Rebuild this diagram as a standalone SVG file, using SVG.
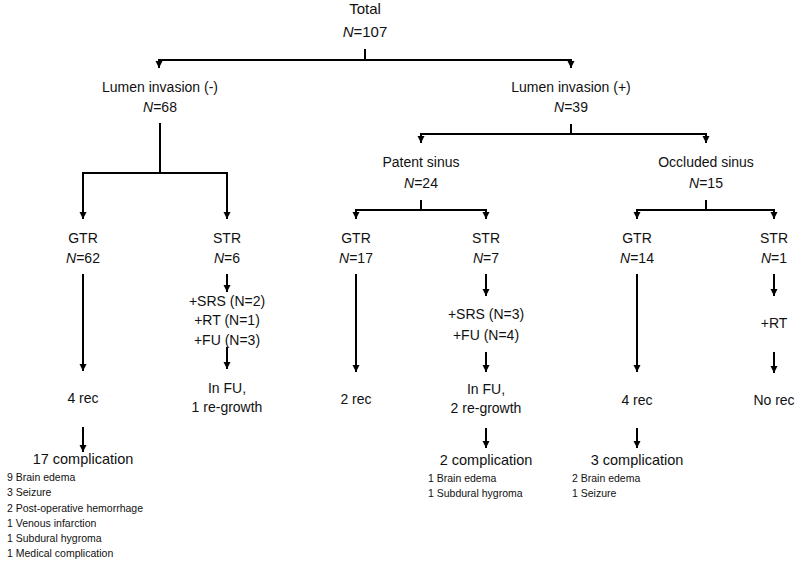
<svg xmlns="http://www.w3.org/2000/svg" width="800" height="566" viewBox="0 0 800 566">
<defs>
<marker id="ah" markerUnits="userSpaceOnUse" markerWidth="8" markerHeight="8" refX="7" refY="3.5" orient="auto">
<path d="M0,0 L7,3.5 L0,7 z" fill="#000"/>
</marker>
<style>
text{font-family:"Liberation Sans",Arial,sans-serif;fill:#111;text-anchor:middle}
.t{font-size:15px}
.m{font-size:14px}
.c{font-size:14.5px}
.s{font-size:10.5px;text-anchor:start}
.i{font-style:italic}
.ln{stroke:#000;stroke-width:2;fill:none}
.ar{stroke:#000;stroke-width:2;fill:none;marker-end:url(#ah)}
</style>
</defs>
<rect width="800" height="566" fill="#fff"/>
<g id="connectors">
<path class="ln" d="M365,49 V60 M159,60 H571"/>
<path class="ar" d="M159,59 V68"/>
<path class="ar" d="M571,59 V68"/>
<path class="ln" d="M160,123 V173 M83,173 H227"/>
<path class="ar" d="M83,172 V219"/>
<path class="ar" d="M227,172 V219"/>
<path class="ln" d="M571,124 V134 M421,134 H706"/>
<path class="ar" d="M421,133 V143"/>
<path class="ar" d="M706,133 V143"/>
<path class="ln" d="M421,200 V210 M356,210 H486"/>
<path class="ar" d="M356,209 V219"/>
<path class="ar" d="M486,209 V219"/>
<path class="ln" d="M706,200 V210 M637,210 H774"/>
<path class="ar" d="M637,209 V219"/>
<path class="ar" d="M774,209 V219"/>
<path class="ar" d="M83,274 V371"/>
<path class="ar" d="M83,427 V452"/>
<path class="ar" d="M227,274 V292"/>
<path class="ar" d="M227,347 V369"/>
<path class="ar" d="M356,274 V372"/>
<path class="ar" d="M486,274 V296"/>
<path class="ar" d="M486,352 V372"/>
<path class="ar" d="M486,428 V448"/>
<path class="ar" d="M637,274 V372"/>
<path class="ar" d="M637,428 V448"/>
<path class="ar" d="M774,274 V296"/>
<path class="ar" d="M774,352 V373"/>
</g>
<g id="total"><text class="t" x="365" y="14">Total</text><text class="t" x="365" y="37"><tspan class="i">N</tspan>=107</text></g>
<g id="lumen-neg"><text class="m" x="160" y="92">Lumen invasion (-)</text><text class="m" x="160" y="112"><tspan class="i">N</tspan>=68</text></g>
<g id="lumen-pos"><text class="m" x="571" y="92">Lumen invasion (+)</text><text class="m" x="571" y="112"><tspan class="i">N</tspan>=39</text></g>
<g id="patent"><text class="m" x="421" y="167">Patent sinus</text><text class="m" x="421" y="188"><tspan class="i">N</tspan>=24</text></g>
<g id="occluded"><text class="m" x="706" y="167">Occluded sinus</text><text class="m" x="706" y="188"><tspan class="i">N</tspan>=15</text></g>
<g id="gtr62"><text class="m" x="83" y="243">GTR</text><text class="m" x="83" y="263"><tspan class="i">N</tspan>=62</text></g>
<g id="str6"><text class="m" x="227" y="243">STR</text><text class="m" x="227" y="263"><tspan class="i">N</tspan>=6</text></g>
<g id="gtr17"><text class="m" x="356" y="243">GTR</text><text class="m" x="356" y="263"><tspan class="i">N</tspan>=17</text></g>
<g id="str7"><text class="m" x="486" y="243">STR</text><text class="m" x="486" y="263"><tspan class="i">N</tspan>=7</text></g>
<g id="gtr14"><text class="m" x="637" y="243">GTR</text><text class="m" x="637" y="263"><tspan class="i">N</tspan>=14</text></g>
<g id="str1"><text class="m" x="774" y="243">STR</text><text class="m" x="774" y="263"><tspan class="i">N</tspan>=1</text></g>
<g id="tx6"><text class="m" x="227" y="306">+SRS (N=2)</text><text class="m" x="227" y="325">+RT (N=1)</text><text class="m" x="227" y="345">+FU (N=3)</text></g>
<g id="tx7"><text class="m" x="486" y="319">+SRS (N=3)</text><text class="m" x="486" y="340">+FU (N=4)</text></g>
<g id="tx1"><text class="m" x="774" y="328">+RT</text></g>
<g id="rec62"><text class="m" x="83" y="403">4 rec</text></g>
<g id="fu6"><text class="m" x="227" y="393">In FU,</text><text class="m" x="227" y="412">1 re-growth</text></g>
<g id="rec17"><text class="m" x="356" y="404">2 rec</text></g>
<g id="fu7"><text class="m" x="486" y="394">In FU,</text><text class="m" x="486" y="413">2 re-growth</text></g>
<g id="rec14"><text class="m" x="637" y="405">4 rec</text></g>
<g id="rec1"><text class="m" x="774" y="405">No rec</text></g>
<g id="comp62"><text class="c" x="83" y="464">17 complication</text>
<text class="s" x="7" y="481">9 Brain edema</text>
<text class="s" x="7" y="496">3 Seizure</text>
<text class="s" x="7" y="512">2 Post-operative hemorrhage</text>
<text class="s" x="7" y="527">1 Venous infarction</text>
<text class="s" x="7" y="542">1 Subdural hygroma</text>
<text class="s" x="7" y="557">1 Medical complication</text></g>
<g id="comp7"><text class="c" x="486" y="465">2 complication</text>
<text class="s" x="428" y="482">1 Brain edema</text>
<text class="s" x="428" y="497">1 Subdural hygroma</text></g>
<g id="comp14"><text class="c" x="637" y="465">3 complication</text>
<text class="s" x="572" y="482">2 Brain edema</text>
<text class="s" x="572" y="497">1 Seizure</text></g>
</svg>
